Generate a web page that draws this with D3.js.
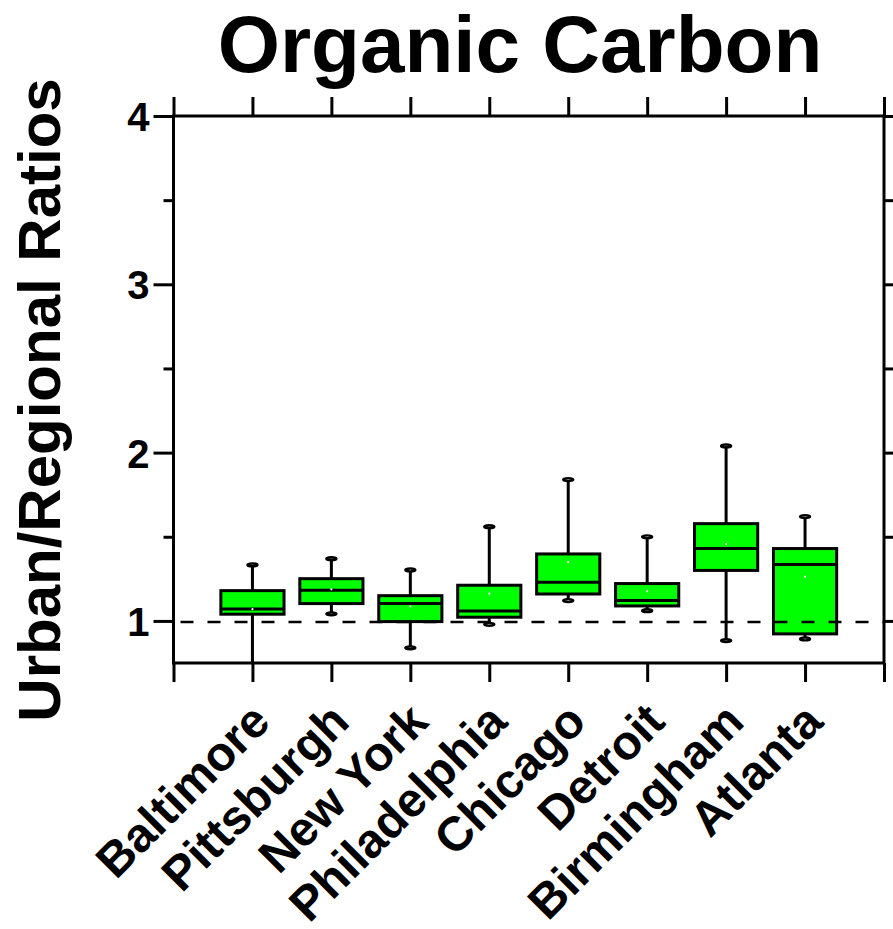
<!DOCTYPE html>
<html>
<head>
<meta charset="utf-8">
<script src="https://cdn.jsdelivr.net/npm/d3@7"></script>
<style>
  body { margin: 0; background: #fff; }
  svg { display: block; font-family: "Liberation Sans", Arial, sans-serif; font-weight: bold; }
</style>
</head>
<body>
<div id="chart"></div>
<script>
const cities = ["Baltimore", "Pittsburgh", "New York", "Philadelphia", "Chicago", "Detroit", "Birmingham", "Atlanta"];
const whiskerLow  = [0.70, 1.042, 0.84, 0.98, 1.121, 1.061, 0.883, 0.893];
const q1          = [1.04, 1.103, 0.996, 1.022, 1.16, 1.089, 1.30, 0.923];
const medians     = [1.071, 1.182, 1.103, 1.059, 1.23, 1.121, 1.43, 1.335];
const q3          = [1.18, 1.251, 1.15, 1.212, 1.398, 1.222, 1.578, 1.43];
const whiskerHigh = [1.333, 1.37, 1.303, 1.56, 1.84, 1.50, 2.04, 1.62];
const means       = [1.07, 1.188, 1.087, 1.162, 1.35, 1.176, 1.457, 1.263];
const majorTicks = [1, 2, 3, 4];
const minorTicks = [1.5, 2.5, 3.5];
const refLine = 1;

const width = 893, height = 929;
const plotLeft = 173.5, plotRight = 884, plotTop = 116, plotBottom = 663;

const svg = d3.select('#chart')
    .append('svg')
    .attr('width', width)
    .attr('height', height);

const x = d3.scaleLinear().domain([0, cities.length + 1]).range([plotLeft, plotRight]);
const y = d3.scaleLinear().domain([0.75, 4]).range([plotBottom, plotTop]);

const data = cities.map((c, i) => ({
    city: c, pos: i + 1,
    lo: whiskerLow[i], q1: q1[i], med: medians[i], q3: q3[i], hi: whiskerHigh[i], mean: means[i]
}));

svg.append('clipPath').attr('id', 'plot-clip')
    .append('rect')
    .attr('x', plotLeft).attr('y', plotTop)
    .attr('width', plotRight - plotLeft).attr('height', plotBottom - plotTop);

// axes (ticks only, frame drawn separately)
function styleAxis(g) {
    g.select('.domain').remove();
    g.selectAll('.tick line').attr('stroke', '#000').attr('stroke-width', 3);
    g.selectAll('.tick text').remove();
}
const xTicks = d3.range(0, cities.length + 2);
svg.append('g').attr('transform', `translate(0,${plotTop})`)
    .call(d3.axisTop(x).tickValues(xTicks).tickSize(19)).call(styleAxis);
svg.append('g').attr('transform', `translate(0,${plotBottom})`)
    .call(d3.axisBottom(x).tickValues(xTicks).tickSize(19)).call(styleAxis);
svg.append('g').attr('transform', `translate(${plotLeft},0)`)
    .call(d3.axisLeft(y).tickValues(minorTicks).tickSize(10)).call(styleAxis);
svg.append('g').attr('transform', `translate(${plotRight},0)`)
    .call(d3.axisRight(y).tickValues(minorTicks).tickSize(10)).call(styleAxis);
svg.append('g').attr('transform', `translate(${plotRight},0)`)
    .call(d3.axisRight(y).tickValues(majorTicks).tickSize(20)).call(styleAxis);

const yAxis = svg.append('g').attr('transform', `translate(${plotLeft},0)`)
    .call(d3.axisLeft(y).tickValues(majorTicks).tickSize(20).tickPadding(4).tickFormat(d3.format('d')));
yAxis.select('.domain').remove();
yAxis.selectAll('.tick line').attr('stroke', '#000').attr('stroke-width', 3);
yAxis.selectAll('.tick text')
    .attr('font-size', 40)
    .attr('font-weight', 'bold')
    .attr('font-family', '"Liberation Sans", Arial, sans-serif')
    .attr('fill', '#000')
    .attr('dy', '0.36em');

// frame
svg.append('rect')
    .attr('x', plotLeft).attr('y', plotTop)
    .attr('width', plotRight - plotLeft).attr('height', plotBottom - plotTop)
    .attr('fill', 'none').attr('stroke', '#000').attr('stroke-width', 3);

// boxes
const plot = svg.append('g').attr('clip-path', 'url(#plot-clip)');
const boxW = x(0.8) - x(0);
const capW = 5;

const box = plot.selectAll('g.box')
    .data(data)
    .enter()
    .append('g')
    .attr('class', 'box');

box.append('line')
    .attr('x1', d => x(d.pos)).attr('x2', d => x(d.pos))
    .attr('y1', d => y(d.q3)).attr('y2', d => y(d.hi))
    .attr('stroke', '#000').attr('stroke-width', 3);
box.append('line')
    .attr('x1', d => x(d.pos)).attr('x2', d => x(d.pos))
    .attr('y1', d => y(d.q1)).attr('y2', d => y(d.lo))
    .attr('stroke', '#000').attr('stroke-width', 3);

box.append('rect')
    .attr('x', d => x(d.pos) - boxW / 2)
    .attr('y', d => y(d.q3))
    .attr('width', boxW)
    .attr('height', d => y(d.q1) - y(d.q3))
    .attr('fill', '#00ff00')
    .attr('stroke', '#000')
    .attr('stroke-width', 3);

box.append('line')
    .attr('x1', d => x(d.pos) - boxW / 2).attr('x2', d => x(d.pos) + boxW / 2)
    .attr('y1', d => y(d.med)).attr('y2', d => y(d.med))
    .attr('stroke', '#000').attr('stroke-width', 3);

['lo', 'hi'].forEach(k => {
    box.append('ellipse')
        .attr('cx', d => x(d.pos))
        .attr('cy', d => y(d[k]))
        .attr('rx', capW).attr('ry', 1.4)
        .attr('fill', '#fff')
        .attr('stroke', '#000')
        .attr('stroke-width', 2.4);
});

box.append('circle')
    .attr('cx', d => x(d.pos))
    .attr('cy', d => y(d.mean))
    .attr('r', 1.1)
    .attr('fill', '#fff');

// reference line
svg.append('line')
    .attr('x1', x(0)).attr('x2', x(cities.length + 1))
    .attr('y1', y(refLine) + 1).attr('y2', y(refLine) + 1)
    .attr('stroke', '#000')
    .attr('stroke-width', 2.5)
    .attr('stroke-dasharray', '13 14')
    .attr('stroke-dashoffset', -7);

// category labels
svg.selectAll('text.city')
    .data(data)
    .enter()
    .append('text')
    .attr('class', 'city')
    .attr('text-anchor', 'end')
    .attr('font-size', 48)
    .attr('transform', d => `translate(${x(d.pos) + 20},724) rotate(-45)`)
    .text(d => d.city);

// titles
svg.append('text')
    .attr('x', 520).attr('y', 72)
    .attr('text-anchor', 'middle')
    .attr('font-size', 80)
    .text('Organic Carbon');

svg.append('text')
    .attr('transform', 'translate(60,400) rotate(-90)')
    .attr('text-anchor', 'middle')
    .attr('font-size', 60)
    .text('Urban/Regional Ratios');
</script>
</body>
</html>
